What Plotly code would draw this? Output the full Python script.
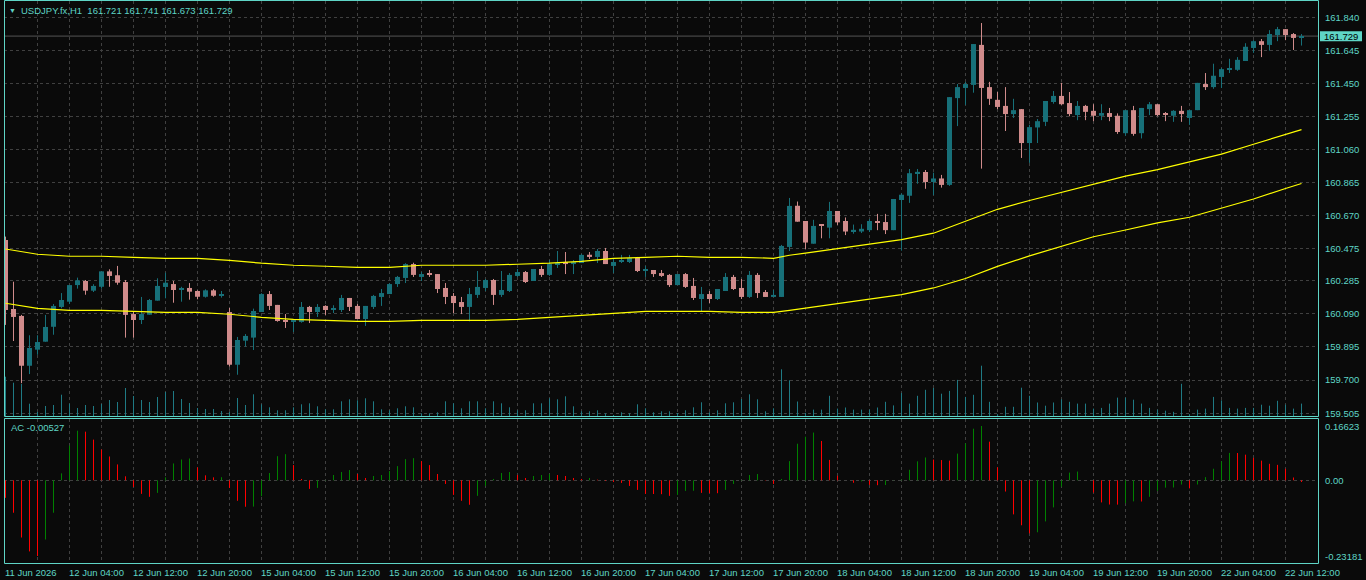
import plotly.graph_objects as go

W, H = 1366, 580

# ---------------- data ----------------
symbol_title = "USDJPY.fx,H1"
header_ohlc = ["161.721", "161.741", "161.673", "161.729"]
ac_title = "AC -0.00527"
bid_price = 161.729

time_labels = ["11 Jun 2026", "12 Jun 04:00", "12 Jun 12:00", "12 Jun 20:00", "15 Jun 04:00",
               "15 Jun 12:00", "15 Jun 20:00", "16 Jun 04:00", "16 Jun 12:00", "16 Jun 20:00",
               "17 Jun 04:00", "17 Jun 12:00", "17 Jun 20:00", "18 Jun 04:00", "18 Jun 12:00",
               "18 Jun 20:00", "19 Jun 04:00", "19 Jun 12:00", "19 Jun 20:00", "22 Jun 04:00",
               "22 Jun 12:00"]
label_bars = list(range(0, 161, 8))

price_tick_labels = ["161.840", "161.645", "161.450", "161.255", "161.060", "160.865", "160.670",
                     "160.475", "160.285", "160.090", "159.895", "159.700", "159.505"]
ac_tick_labels = ["0.16623", "0.00", "-0.23181"]

open_ = [160.526, 160.119, 160.078, 159.784, 159.879, 159.926, 160.014, 160.131, 160.162, 160.260,
         160.284, 160.227, 160.250, 160.341, 160.318, 160.278, 160.089, 160.054, 160.085, 160.168,
         160.249, 160.266, 160.231, 160.243, 160.225, 160.191, 160.229, 160.197, 160.101, 159.790,
         159.932, 159.950, 160.101, 160.207, 160.143, 160.054, 160.046, 160.042, 160.131, 160.101,
         160.137, 160.113, 160.113, 160.184, 160.137, 160.060, 160.131, 160.190, 160.207, 160.266,
         160.302, 160.384, 160.308, 160.325, 160.325, 160.243, 160.196, 160.160, 160.131, 160.202,
         160.243, 160.290, 160.202, 160.225, 160.314, 160.337, 160.284, 160.355, 160.320, 160.384,
         160.396, 160.384, 160.390, 160.439, 160.426, 160.461, 160.373, 160.398, 160.396, 160.420,
         160.345, 160.349, 160.331, 160.320, 160.260, 160.325, 160.255, 160.178, 160.207, 160.178,
         160.225, 160.308, 160.243, 160.190, 160.320, 160.219, 160.190, 160.190, 160.485, 160.728,
         160.638, 160.504, 160.617, 160.599, 160.697, 160.638, 160.576, 160.576, 160.584, 160.638,
         160.632, 160.584, 160.762, 160.787, 160.918, 160.927, 160.868, 160.889, 160.851, 161.363,
         161.423, 161.441, 161.677, 161.428, 161.353, 161.317, 161.269, 161.298, 161.098, 161.190,
         161.223, 161.340, 161.376, 161.334, 161.263, 161.317, 161.288, 161.259, 161.275, 161.259,
         161.156, 161.292, 161.156, 161.298, 161.327, 161.269, 161.259, 161.288, 161.246, 161.292,
         161.446, 161.428, 161.488, 161.530, 161.530, 161.582, 161.659, 161.699, 161.677, 161.735,
         161.770, 161.741, 161.721]
high = [160.546, 160.280, 160.084, 159.964, 159.964, 160.084, 160.148, 160.213, 160.260, 160.304,
        160.290, 160.265, 160.341, 160.353, 160.373, 160.290, 160.103, 160.190, 160.178, 160.300,
        160.333, 160.284, 160.250, 160.272, 160.229, 160.235, 160.237, 160.225, 160.125, 159.954,
        159.971, 160.121, 160.212, 160.225, 160.143, 160.089, 160.054, 160.160, 160.137, 160.148,
        160.141, 160.141, 160.202, 160.184, 160.148, 160.137, 160.202, 160.237, 160.271, 160.314,
        160.389, 160.392, 160.337, 160.349, 160.325, 160.272, 160.213, 160.190, 160.243, 160.343,
        160.296, 160.296, 160.343, 160.331, 160.355, 160.343, 160.355, 160.373, 160.408, 160.461,
        160.455, 160.408, 160.443, 160.455, 160.473, 160.479, 160.420, 160.438, 160.438, 160.426,
        160.373, 160.349, 160.349, 160.325, 160.325, 160.331, 160.302, 160.249, 160.225, 160.237,
        160.331, 160.320, 160.296, 160.343, 160.331, 160.231, 160.231, 160.497, 160.774, 160.753,
        160.638, 160.645, 160.620, 160.751, 160.697, 160.659, 160.617, 160.619, 160.649, 160.680,
        160.680, 160.768, 160.801, 160.945, 160.945, 160.939, 160.923, 160.910, 161.369, 161.446,
        161.458, 161.682, 161.806, 161.459, 161.399, 161.428, 161.359, 161.298, 161.206, 161.240,
        161.346, 161.405, 161.453, 161.399, 161.346, 161.323, 161.327, 161.327, 161.305, 161.273,
        161.292, 161.317, 161.305, 161.340, 161.327, 161.281, 161.292, 161.317, 161.292, 161.453,
        161.511, 161.566, 161.541, 161.595, 161.605, 161.687, 161.705, 161.712, 161.764, 161.783,
        161.770, 161.747, 161.741]
low = [160.025, 159.930, 159.681, 159.735, 159.849, 159.926, 159.967, 160.123, 160.148, 160.239,
       160.203, 160.219, 160.239, 160.250, 160.262, 159.950, 159.950, 160.030, 160.085, 160.168,
       160.182, 160.156, 160.162, 160.174, 160.176, 160.186, 160.191, 160.186, 159.779, 159.731,
       159.897, 159.877, 160.101, 160.113, 160.044, 160.007, 159.983, 160.038, 160.036, 160.072,
       160.084, 160.095, 160.101, 160.107, 160.060, 160.019, 160.119, 160.137, 160.207, 160.249,
       160.272, 160.308, 160.284, 160.308, 160.213, 160.148, 160.095, 160.089, 160.046, 160.184,
       160.225, 160.143, 160.190, 160.219, 160.308, 160.272, 160.284, 160.308, 160.314, 160.361,
       160.325, 160.325, 160.390, 160.414, 160.390, 160.384, 160.331, 160.390, 160.390, 160.337,
       160.308, 160.308, 160.308, 160.249, 160.260, 160.243, 160.172, 160.107, 160.154, 160.172,
       160.225, 160.231, 160.178, 160.184, 160.184, 160.190, 160.190, 160.190, 160.461, 160.634,
       160.473, 160.504, 160.536, 160.536, 160.615, 160.555, 160.563, 160.567, 160.573, 160.584,
       160.561, 160.584, 160.463, 160.745, 160.858, 160.828, 160.791, 160.835, 160.845, 161.198,
       161.323, 161.395, 160.947, 161.323, 161.298, 161.169, 161.246, 161.010, 160.981, 161.098,
       161.198, 161.330, 161.323, 161.256, 161.233, 161.233, 161.227, 161.233, 161.227, 161.152,
       161.141, 161.141, 161.125, 161.263, 161.256, 161.227, 161.223, 161.223, 161.205, 161.292,
       161.411, 161.418, 161.423, 161.511, 161.524, 161.582, 161.630, 161.605, 161.643, 161.699,
       161.705, 161.647, 161.673]
close = [160.113, 160.072, 159.784, 159.889, 159.924, 160.013, 160.137, 160.172, 160.260, 160.288,
         160.227, 160.255, 160.341, 160.314, 160.274, 160.084, 160.054, 160.089, 160.172, 160.255,
         160.274, 160.231, 160.243, 160.221, 160.191, 160.229, 160.197, 160.207, 159.790, 159.936,
         159.960, 160.107, 160.207, 160.137, 160.048, 160.042, 160.050, 160.131, 160.101, 160.131,
         160.113, 160.125, 160.184, 160.131, 160.060, 160.137, 160.196, 160.213, 160.266, 160.308,
         160.384, 160.320, 160.325, 160.321, 160.237, 160.190, 160.154, 160.131, 160.207, 160.249,
         160.290, 160.202, 160.231, 160.320, 160.337, 160.278, 160.355, 160.320, 160.384, 160.390,
         160.384, 160.396, 160.438, 160.426, 160.461, 160.384, 160.396, 160.402, 160.420, 160.343,
         160.349, 160.325, 160.314, 160.260, 160.325, 160.249, 160.184, 160.207, 160.178, 160.237,
         160.308, 160.237, 160.190, 160.320, 160.213, 160.190, 160.202, 160.491, 160.727, 160.634,
         160.511, 160.609, 160.609, 160.697, 160.630, 160.576, 160.586, 160.592, 160.638, 160.630,
         160.584, 160.768, 160.793, 160.920, 160.928, 160.868, 160.889, 160.851, 161.369, 161.428,
         161.446, 161.682, 161.423, 161.359, 161.311, 161.269, 161.292, 161.098, 161.192, 161.227,
         161.346, 161.376, 161.327, 161.269, 161.317, 161.282, 161.259, 161.275, 161.252, 161.163,
         161.292, 161.152, 161.305, 161.327, 161.263, 161.265, 161.288, 161.269, 161.292, 161.453,
         161.428, 161.495, 161.534, 161.534, 161.589, 161.666, 161.699, 161.677, 161.741, 161.770,
         161.735, 161.718, 161.729]
volume = [2358, 1998, 1920, 738, 240, 600, 660, 1278, 738, 480,
          660, 600, 720, 960, 840, 1680, 1200, 960, 840, 1140,
          1440, 1500, 1020, 780, 480, 420, 420, 300, 240, 1080,
          660, 1302, 702, 522, 342, 342, 522, 702, 762, 582,
          402, 402, 882, 1002, 942, 1062, 882, 402, 342, 462,
          582, 522, 162, 162, 222, 882, 762, 462, 882, 882,
          462, 882, 762, 522, 342, 342, 762, 762, 1062, 1002,
          1182, 582, 282, 282, 342, 162, 60, 222, 162, 702,
          462, 222, 282, 282, 180, 342, 522, 822, 222, 342,
          762, 822, 1020, 1302, 1002, 282, 462, 2802, 2142, 870,
          192, 384, 384, 1212, 444, 510, 384, 384, 384, 510,
          852, 636, 1380, 744, 1212, 1572, 1680, 1338, 1506, 2166,
          1146, 1272, 3018, 852, 108, 552, 552, 1698, 1212, 810,
          618, 810, 996, 852, 744, 744, 444, 486, 744, 1104,
          1104, 978, 744, 486, 384, 318, 252, 1932, 108, 384,
          444, 1146, 936, 486, 444, 486, 486, 678, 618, 912,
          678, 444, 744]
ac = [-0.0537, -0.0993, -0.1752, -0.2177, -0.23181, -0.1813, -0.0993, 0.0213, 0.1063, 0.1519,
      0.1489, 0.1246, 0.0942, 0.0729, 0.0486, 0.0122, -0.0203, -0.0415, -0.0506, -0.0385,
      0.0091, 0.0516, 0.0638, 0.0668, 0.0395, 0.0152, 0.0091, 0.0095, -0.0233, -0.0628,
      -0.0810, -0.0805, -0.0486, 0.0223, 0.0739, 0.0800, 0.0466, 0.0041, -0.0263, -0.0233,
      0.0010, 0.0162, 0.0253, 0.0314, 0.0192, 0.0071, 0.0132, 0.0162, 0.0284, 0.0435,
      0.0648, 0.0678, 0.0587, 0.0466, 0.0192, -0.0111, -0.0446, -0.0628, -0.0749, -0.0476,
      -0.0172, 0.0041, 0.0223, 0.0253, 0.0162, 0.0071, 0.0132, 0.0162, 0.0192, 0.0162,
      0.0132, 0.0071, 0.0041, 0.0071, 0.0020, -0.0020, -0.0050, -0.0080, -0.0172, -0.0294,
      -0.0415, -0.0420, -0.0425, -0.0476, -0.0446, -0.0324, -0.0320, -0.0385, -0.0390, -0.0395,
      -0.0294, -0.0111, 0.0010, 0.0162, 0.0192, -0.0010, -0.0111, 0.0041, 0.0587, 0.1120,
      0.1334, 0.1462, 0.1204, 0.0624, 0.0140, 0.0000, -0.0075, -0.0032, -0.0140, -0.0150,
      -0.0145, 0.0005, 0.0020, 0.0322, 0.0581, 0.0699, 0.0635, 0.0620, 0.0602, 0.0817,
      0.1130, 0.1580, 0.16623, 0.1183, 0.0398, -0.0344, -0.1043, -0.1377, -0.1624, -0.1591,
      -0.1259, -0.0829, -0.0193, 0.0236, 0.0268, 0.0003, -0.0376, -0.0677, -0.0742, -0.0745,
      -0.0699, -0.0645, -0.0650, -0.0505, -0.0323, -0.0225, -0.0220, -0.0129, -0.0247, -0.0129,
      0.0097, 0.0354, 0.0581, 0.0839, 0.0835, 0.0785, 0.0688, 0.0602, 0.0505, 0.0473,
      0.0354, 0.0086, -0.00527]

env_bars = [0, 4, 8, 12, 16, 20, 24, 28, 32, 36, 40, 44, 48, 52, 56, 60, 64, 68, 72, 76, 80,
            84, 88, 92, 96, 98, 100, 104, 108, 112, 116, 120, 124, 128, 132, 136, 140, 144,
            148, 152, 156, 160, 162]
env_upper = [160.473, 160.442, 160.430, 160.430, 160.424, 160.418, 160.418, 160.406, 160.389,
             160.377, 160.371, 160.365, 160.365, 160.377, 160.377, 160.377, 160.383, 160.389,
             160.400, 160.418, 160.424, 160.430, 160.424, 160.424, 160.418, 160.436, 160.449,
             160.474, 160.500, 160.528, 160.566, 160.635, 160.707, 160.759, 160.808, 160.858,
             160.903, 160.941, 160.989, 161.033, 161.091, 161.148, 161.177]
env_lower = [160.153, 160.123, 160.111, 160.111, 160.105, 160.099, 160.099, 160.088, 160.070,
             160.058, 160.052, 160.046, 160.046, 160.052, 160.052, 160.052, 160.058, 160.070,
             160.082, 160.093, 160.105, 160.105, 160.105, 160.099, 160.099, 160.111, 160.125,
             160.153, 160.177, 160.204, 160.243, 160.299, 160.370, 160.432, 160.489, 160.545,
             160.585, 160.627, 160.660, 160.713, 160.768, 160.830, 160.859]

# ---------------- style ----------------
BG = "#0a0a0a"
TEAL_TXT = "#5fd5c6"
FRAME = "#5fd5c6"
GRID = "#404040"
BULL = "#177079"
BEAR = "#d08b8b"
VOL = "#1f7a84"
AC_UP = "#008000"
AC_DN = "#ff0000"
ENV = "#ffff00"
FONT = "Liberation Sans, Arial, sans-serif"
FS = 9.5

n = len(close)
bars = list(range(n))

def px_x(p):
    return p / W

def px_y(p):
    return 1 - p / H

# plot-area geometry (pixels)
L_PX, R_PX = 4, 1318
MAIN_TOP, MAIN_BOT = 1, 416
AC_TOP, AC_BOT = 419, 563
X_RANGE = [-0.1875, 164.0625]
MAIN_RANGE = [159.4876, 161.936]
AC_RANGE = [-0.2532, 0.1877]
VOL_RANGE = [0, 24900]

fig = go.Figure()

# volumes
vx, vy = [], []
for i in bars:
    vx += [i, i, None]
    vy += [0, volume[i], None]
fig.add_trace(go.Scatter(x=vx, y=vy, mode="lines", line=dict(color=VOL, width=1),
                         xaxis="x", yaxis="y3", hoverinfo="skip", showlegend=False))

# wicks
ux, uy, dx, dy = [], [], [], []
for i in bars:
    if close[i] >= open_[i]:
        ux += [i, i, None]; uy += [low[i], high[i], None]
    else:
        dx += [i, i, None]; dy += [low[i], high[i], None]
fig.add_trace(go.Scatter(x=ux, y=uy, mode="lines", line=dict(color=BULL, width=1),
                         hoverinfo="skip", showlegend=False))
fig.add_trace(go.Scatter(x=dx, y=dy, mode="lines", line=dict(color=BEAR, width=1),
                         hoverinfo="skip", showlegend=False))

# bodies
MIN_BODY = 0.006
fig.add_trace(go.Bar(
    x=bars,
    base=[min(o, c) for o, c in zip(open_, close)],
    y=[max(abs(c - o), MIN_BODY) for o, c in zip(open_, close)],
    width=0.625,
    marker=dict(color=[BULL if c >= o else BEAR for o, c in zip(open_, close)], line=dict(width=0)),
    hoverinfo="skip", showlegend=False))

# envelopes
fig.add_trace(go.Scatter(x=env_bars, y=env_upper, mode="lines", line=dict(color=ENV, width=1.2),
                         hoverinfo="skip", showlegend=False))
fig.add_trace(go.Scatter(x=env_bars, y=env_lower, mode="lines", line=dict(color=ENV, width=1.2),
                         hoverinfo="skip", showlegend=False))

# AC histogram
gx, gy, rx, ry = [], [], [], []
for i in bars:
    up = i > 0 and ac[i] > ac[i - 1]
    if up:
        gx += [i, i, None]; gy += [0, ac[i], None]
    else:
        rx += [i, i, None]; ry += [0, ac[i], None]
fig.add_trace(go.Scatter(x=gx, y=gy, mode="lines", line=dict(color=AC_UP, width=1),
                         xaxis="x2", yaxis="y2", hoverinfo="skip", showlegend=False))
fig.add_trace(go.Scatter(x=rx, y=ry, mode="lines", line=dict(color=AC_DN, width=1),
                         xaxis="x2", yaxis="y2", hoverinfo="skip", showlegend=False))

grid_x = list(range(4, 164, 4))
axis_common = dict(showline=False, zeroline=False, ticks="", showticklabels=False,
                   fixedrange=True)

fig.update_layout(
    width=W, height=H, margin=dict(l=0, r=0, t=0, b=0),
    paper_bgcolor=BG, plot_bgcolor=BG, barmode="overlay", showlegend=False,
    xaxis=dict(domain=[px_x(L_PX), px_x(R_PX)], range=X_RANGE, anchor="y",
               tickvals=grid_x, showgrid=True, gridcolor=GRID, griddash="3px,3px", gridwidth=1,
               **axis_common),
    xaxis2=dict(domain=[px_x(L_PX), px_x(R_PX)], range=X_RANGE, anchor="y2", matches="x",
                tickvals=grid_x, showgrid=True, gridcolor=GRID, griddash="3px,3px", gridwidth=1,
                **axis_common),
    yaxis=dict(domain=[px_y(MAIN_BOT), px_y(MAIN_TOP)], range=MAIN_RANGE, anchor="x",
               tickvals=[float(s) for s in price_tick_labels], showgrid=True, gridcolor=GRID,
               griddash="3px,3px", gridwidth=1, **axis_common),
    yaxis3=dict(domain=[px_y(MAIN_BOT), px_y(MAIN_TOP)], range=VOL_RANGE, overlaying="y",
                anchor="x", showgrid=False, visible=False, fixedrange=True),
    yaxis2=dict(domain=[px_y(AC_BOT), px_y(AC_TOP)], range=AC_RANGE, anchor="x2",
                tickvals=[0], showgrid=True, gridcolor=GRID, griddash="3px,3px", gridwidth=1,
                **axis_common),
)

shapes = []
# frames
for top, bot in [(0.5, 416.5), (418.5, 563.5)]:
    shapes.append(dict(type="rect", xref="paper", yref="paper",
                       x0=px_x(4.5), x1=px_x(1318.5), y0=px_y(bot), y1=px_y(top),
                       line=dict(color=FRAME, width=1), fillcolor="rgba(0,0,0,0)", layer="above"))
# bid line
shapes.append(dict(type="line", xref="paper", yref="y", x0=px_x(L_PX), x1=px_x(R_PX),
                   y0=bid_price, y1=bid_price, line=dict(color="#555555", width=1), layer="below"))
# bid label box
shapes.append(dict(type="rect", xref="paper", yref="y", x0=px_x(1320), x1=px_x(1362),
                   y0=bid_price - 0.031, y1=bid_price + 0.029, line=dict(width=0),
                   fillcolor=TEAL_TXT, layer="above"))
fig.update_layout(shapes=shapes)

ann = []
font = dict(family=FONT, size=FS, color=TEAL_TXT)
for s in price_tick_labels:
    ann.append(dict(xref="paper", yref="y", x=px_x(1323), y=float(s), text=s, showarrow=False,
                    xanchor="left", yanchor="middle", font=font))
for s in ac_tick_labels:
    ann.append(dict(xref="paper", yref="y2", x=px_x(1323), y=float(s), text=s, showarrow=False,
                    xanchor="left", yanchor="middle", font=font))
ann.append(dict(xref="paper", yref="y", x=px_x(1322), y=bid_price, text=f"{bid_price:.3f}",
                showarrow=False, xanchor="left", yanchor="middle",
                font=dict(family=FONT, size=FS, color="#000000")))
for b, s in zip(label_bars, time_labels):
    ann.append(dict(xref="x", yref="paper", x=b, y=px_y(572), text=s, showarrow=False,
                    xanchor="left", yanchor="middle", xshift=-3, font=font))
ann.append(dict(xref="paper", yref="paper", x=px_x(7), y=px_y(10), text="▼", showarrow=False,
                xanchor="left", yanchor="middle", font=dict(family=FONT, size=7, color=TEAL_TXT)))
ann.append(dict(xref="paper", yref="paper", x=px_x(19), y=px_y(10.5),
                text=symbol_title + "\u00a0\u00a0" + " ".join(header_ohlc), showarrow=False,
                xanchor="left", yanchor="middle", font=font))
ann.append(dict(xref="paper", yref="paper", x=px_x(9), y=px_y(427), text=ac_title,
                showarrow=False, xanchor="left", yanchor="middle", font=font))
fig.update_layout(annotations=ann)

fig.write_html("out.html")
